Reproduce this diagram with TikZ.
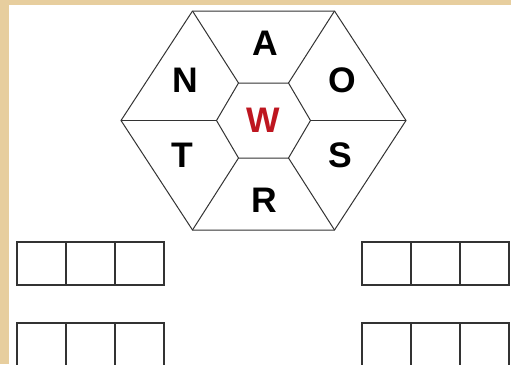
\documentclass[tikz,border=0pt]{standalone}
\usepackage{fontspec}
\setmainfont{Liberation Sans}
\usetikzlibrary{positioning}
\definecolor{parch}{RGB}{231,206,158}
\definecolor{wred}{RGB}{190,22,32}

\begin{document}
\begin{tikzpicture}[x=1pt,y=-1pt,
    letter/.style={font=\fontsize{35.5}{36}\selectfont\bfseries,inner sep=0pt,text height=25.5pt,text depth=0pt},
    cell/.style={draw=black!80,line width=1.3pt,minimum width=49pt,minimum height=43pt,inner sep=0pt,outer sep=0pt},
    node distance=0pt]
    \clip (0,0) rectangle (511,364);
    \fill[parch] (0,0) rectangle (511,364);
    \fill[white] (9,5) rectangle (511,364);
    %% hexagon
    \coordinate (o1) at (406,120.5);
    \coordinate (o2) at (334.5,11);
    \coordinate (o3) at (192.5,11);
    \coordinate (o4) at (121,120.5);
    \coordinate (o5) at (192.5,230);
    \coordinate (o6) at (334.5,230);
    %
    \coordinate (i1) at (310.5,120.5);
    \coordinate (i2) at (288.5,83);
    \coordinate (i3) at (238.5,83);
    \coordinate (i4) at (216.5,120.5);
    \coordinate (i5) at (238.5,158);
    \coordinate (i6) at (288.5,158);
    %
    \draw[black!80,line width=1pt] (o1)--(o2)--(o3)--(o4)--(o5)--(o6)--cycle;
    \draw[black!80,line width=1pt] (i1)--(i2)--(i3)--(i4)--(i5)--(i6)--cycle;
    \foreach \k in {1,...,6}
        \draw[black!80,line width=1pt] (i\k)--(o\k);
    %% letters
    \node[letter] (A) at (265,42.5) {A};
    \node[letter] (N) at (185,80) {N};
    \node[letter] (O) at (342.5,80) {O};
    \node[letter,text=wred] (W) at (263.5,119.5) {W};
    \node[letter] (T) at (182.5,155) {T};
    \node[letter] (S) at (340,155) {S};
    \node[letter] (R) at (264.5,199.5) {R};
    %% answer boxes
    \node[cell] (ta1) at (41.5,263.5) {};
    \node[cell,right=of ta1] (ta2) {};
    \node[cell,right=of ta2] (ta3) {};
    %
    \node[cell] (tb1) at (386.5,263.5) {};
    \node[cell,right=of tb1] (tb2) {};
    \node[cell,right=of tb2] (tb3) {};
    %
    \node[cell] (ba1) at (41.5,344.5) {};
    \node[cell,right=of ba1] (ba2) {};
    \node[cell,right=of ba2] (ba3) {};
    %
    \node[cell] (bb1) at (386.5,344.5) {};
    \node[cell,right=of bb1] (bb2) {};
    \node[cell,right=of bb2] (bb3) {};
\end{tikzpicture}
\end{document}
